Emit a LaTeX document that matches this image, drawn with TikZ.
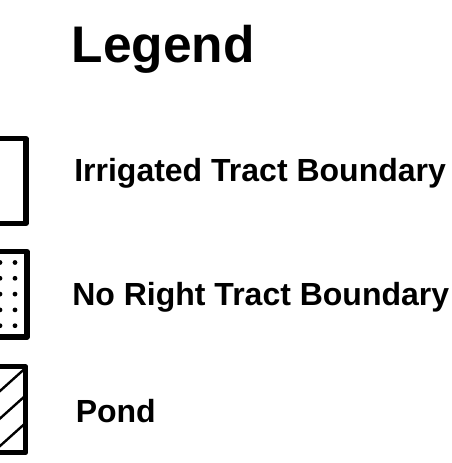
\documentclass[tikz,border=0pt]{standalone}
\usepackage{fontspec}
\setmainfont{Liberation Sans}
\begin{document}
\begin{tikzpicture}[
        x=0.75pt, y=-0.75pt,
        every node/.style={black, anchor=base west, inner sep=0pt, font=\bfseries\fontsize{24}{28}\selectfont},
        legbox/.style={line width=3.9pt, line join=round},
        hatch/.style={line width=1.8pt}
    ]
    \clip (0,0) rectangle (452,463);
    \node[font=\bfseries\fontsize{38.6}{44}\selectfont] (title) at (71.5,63) {Legend};

    % irrigated tract
    \draw [legbox] (-40,138.7) rectangle (26,223.5);
    \node (irrigated) at (74,181) {Irrigated Tract Boundary};

    % no right tract
    \foreach \r in {0,...,4}
        \foreach \c in {0,15}
            \fill (\c,262.5+15.8*\r) circle [radius=1.8pt];
    \draw [legbox] (-40,251.5) rectangle (27,337);
    \node (noright) at (72,305) {No Right Tract Boundary};

    % pond
    \begin{scope}
        \clip (-40,366.8) rectangle (25.8,452.5);
        \foreach \b in {363.5,391,418.5,446}
            \draw [hatch] (-10,\b+9) -- (40,\b-36);
    \end{scope}
    \draw [legbox] (-40,366.8) rectangle (25.8,452.5);
    \node (pond) at (75.5,422) {Pond};
\end{tikzpicture}
\end{document}
